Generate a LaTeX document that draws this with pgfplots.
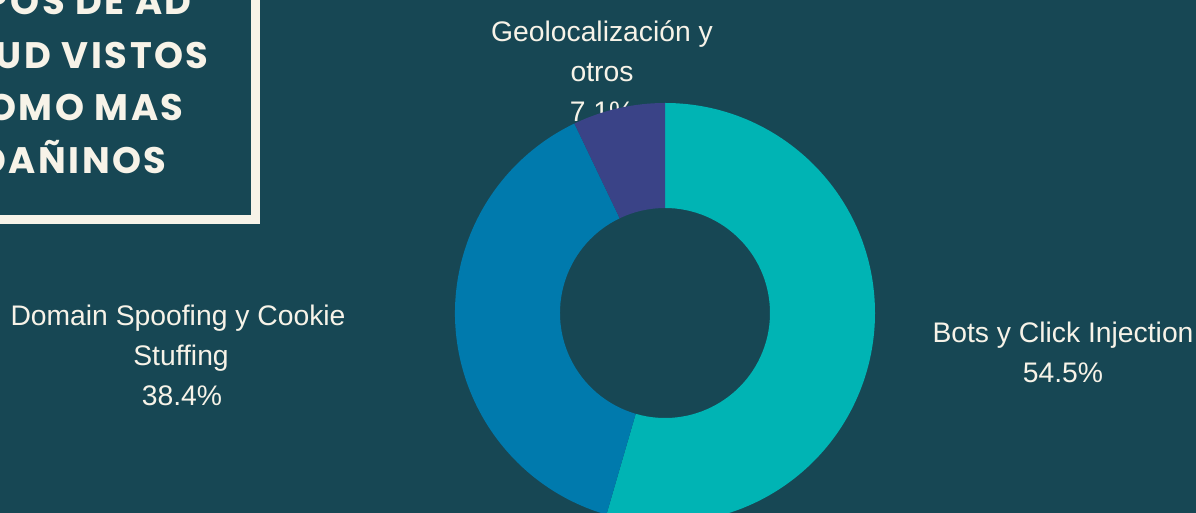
\documentclass[border=0pt]{standalone}
\usepackage{pgfplots}
\pgfplotsset{compat=1.18}
\usepackage{pgfplotstable}
\usepackage{fontspec}
\setmainfont{Liberation Sans}
\newfontfamily\titlefont[LetterSpace=7.0]{Poppins}

\definecolor{bg}{RGB}{23,71,84}
\definecolor{cteal}{RGB}{0,180,180}
\definecolor{cblue}{RGB}{0,122,173}
\definecolor{cpurple}{RGB}{58,67,135}
\definecolor{cream}{RGB}{247,243,232}

\pgfplotstableread{
label value
Bots 54.5
Domain 38.4
Geo 7.1
}\piedata

\begin{document}
\begin{tikzpicture}[x=1cm,y=1cm]
\pgfplotstablegetelem{0}{value}\of\piedata \pgfmathsetmacro\valA{\pgfplotsretval}
\pgfplotstablegetelem{1}{value}\of\piedata \pgfmathsetmacro\valB{\pgfplotsretval}
\pgfplotstablegetelem{2}{value}\of\piedata \pgfmathsetmacro\valC{\pgfplotsretval}
\pgfmathsetmacro\angA{90}
\pgfmathsetmacro\angB{\angA-3.6*\valA}
\pgfmathsetmacro\angC{\angB-3.6*\valB}
\pgfmathsetmacro\angD{\angC-3.6*\valC}
\def\cx{13.3}\def\cy{4.0}\def\ro{4.2}\def\ri{2.1}
\useasboundingbox (0,0) rectangle (23.92,10.26);
\fill[bg] (0,0) rectangle (23.92,10.26);
\clip (0,0) rectangle (23.92,10.26);
% title box
\draw[cream, line width=0.18cm] (-1,{10.26-219*0.02}) -- ({255.5*0.02},{10.26-219*0.02}) -- ({255.5*0.02},11);
\begin{scope}[every node/.style={anchor=base east, text=cream, inner sep=0pt, font=\titlefont\bfseries\fontsize{21}{21}\selectfont}]
\node at ({192*0.02},{10.26-15*0.02}) {TIPOS DE AD};
\node at ({209*0.02},{10.26-68*0.02}) {FRAUD VISTOS};
\node at ({184*0.02},{10.26-120*0.02}) {COMO MAS};
\node at ({167*0.02},{10.26-173*0.02}) {DAÑINOS};
\end{scope}
\begin{axis}[at={(0,0)}, anchor=origin, x=1cm, y=1cm, xmin=0, xmax=23.92, ymin=0, ymax=10.26,
  hide axis, scale only axis, clip=false, disabledatascaling]
\begin{scope}[every node/.style={anchor=base, text=cream, inner sep=0pt, font=\fontsize{16.1}{19}\selectfont}]
\node at (axis cs:{602*0.02},{10.26-42*0.02}) {Geolocalización y};
\node at (axis cs:{602*0.02},{10.26-82*0.02}) {otros};
\node at (axis cs:{602*0.02},{10.26-122*0.02}) {7.1\%};
\node at (axis cs:{178*0.02},{10.26-326*0.02}) {Domain Spoofing y Cookie};
\node at (axis cs:{181*0.02},{10.26-366*0.02}) {Stuffing};
\node at (axis cs:{182*0.02},{10.26-406*0.02}) {38.4\%};
\node at (axis cs:{1063*0.02},{10.26-343*0.02}) {Bots y Click Injection};
\node at (axis cs:{1063*0.02},{10.26-383*0.02}) {54.5\%};
\end{scope}
\fill[cteal] (axis cs:{\cx+\ro*cos(\angA)},{\cy+\ro*sin(\angA)}) arc[start angle=\angA, end angle=\angB, radius=\ro]
  -- (axis cs:{\cx+\ri*cos(\angB)},{\cy+\ri*sin(\angB)}) arc[start angle=\angB, end angle=\angA, radius=\ri] -- cycle;
\fill[cblue] (axis cs:{\cx+\ro*cos(\angB)},{\cy+\ro*sin(\angB)}) arc[start angle=\angB, end angle=\angC, radius=\ro]
  -- (axis cs:{\cx+\ri*cos(\angC)},{\cy+\ri*sin(\angC)}) arc[start angle=\angC, end angle=\angB, radius=\ri] -- cycle;
\fill[cpurple] (axis cs:{\cx+\ro*cos(\angC)},{\cy+\ro*sin(\angC)}) arc[start angle=\angC, end angle=\angD, radius=\ro]
  -- (axis cs:{\cx+\ri*cos(\angD)},{\cy+\ri*sin(\angD)}) arc[start angle=\angD, end angle=\angC, radius=\ri] -- cycle;
\end{axis}
\end{tikzpicture}
\end{document}
